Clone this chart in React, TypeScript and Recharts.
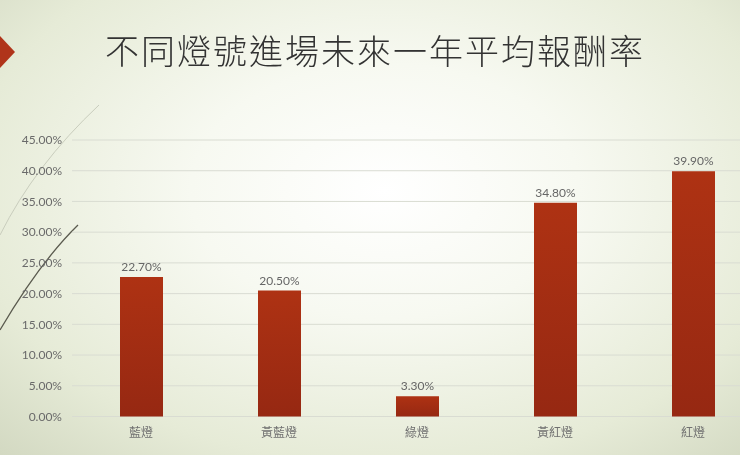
import { BarChart, Bar, XAxis, YAxis, CartesianGrid, LabelList } from "recharts";

const categories = ["藍燈", "黃藍燈", "綠燈", "黃紅燈", "紅燈"];
const returns = [22.7, 20.5, 3.3, 34.8, 39.9];
const yTicks = [0, 5, 10, 15, 20, 25, 30, 35, 40, 45];

const data = categories.map((name, i) => ({ name, value: returns[i] }));

const pct = (v: number) => `${Number(v).toFixed(2)}%`;

const labelFont = "Lato, 'Noto Sans CJK TC', sans-serif";

export default function App() {
  return (
    <div
      style={{
        position: "fixed",
        left: 0,
        top: 0,
        width: 740,
        height: 455,
        overflow: "hidden",
        background:
          "radial-gradient(ellipse 75% 80% at 52% 42%, #ffffff 0%, #f7f9f1 35%, #e6ebd7 75%, #d3d9c2 100%)",
      }}
    >
      <svg
        width={740}
        height={455}
        style={{ position: "absolute", left: 0, top: 0 }}
      >
        <polygon points="-16,52 0,36 15,52 0,68" fill="#b0341a" />
        <path d="M 99 105 Q 35 165 0 235" stroke="#c9cdbd" strokeWidth={1} fill="none" />
        <path d="M 78 225 Q 40 262 0 330" stroke="#5a5a4e" strokeWidth={1.3} fill="none" />
      </svg>
      <div
        style={{
          position: "absolute",
          left: 95,
          width: 560,
          top: 50,
          transform: "translateY(-50%)",
          textAlign: "center",
          fontFamily: "'Noto Sans CJK TC', sans-serif",
          fontWeight: 300,
          fontSize: 34,
          letterSpacing: 2,
          lineHeight: 1,
          color: "#333333",
        }}
      >
        不同燈號進場未來一年平均報酬率
      </div>
      <div style={{ position: "absolute", left: 0, top: 0 }}>
        <BarChart
          width={762}
          height={455}
          data={data}
          margin={{ top: 140, right: 0, left: 0, bottom: 0 }}
        >
          <defs>
            <linearGradient id="barGrad" x1="0" y1="0" x2="0" y2="1">
              <stop offset="0%" stopColor="#ae3213" />
              <stop offset="100%" stopColor="#962812" />
            </linearGradient>
          </defs>
          <CartesianGrid vertical={false} stroke="#d9dcd2" />
          <XAxis
            dataKey="name"
            height={38.5}
            axisLine={false}
            tickLine={false}
            tickSize={0}
            tickMargin={12}
            tick={{ fontSize: 12, fill: "#707070", fontFamily: labelFont }}
          />
          <YAxis
            width={72}
            domain={[0, 45]}
            ticks={yTicks}
            axisLine={false}
            tickLine={false}
            tickSize={0}
            tickMargin={10}
            tickFormatter={pct}
            tick={{ fontSize: 12, fill: "#6a6a6a", fontFamily: labelFont }}
          />
          <Bar
            dataKey="value"
            barSize={43}
            fill="url(#barGrad)"
            isAnimationActive={false}
          >
            <LabelList
              dataKey="value"
              position="top"
              offset={6}
              formatter={pct}
              style={{ fontSize: 12, fill: "#666666", fontFamily: labelFont }}
            />
          </Bar>
        </BarChart>
      </div>
    </div>
  );
}
